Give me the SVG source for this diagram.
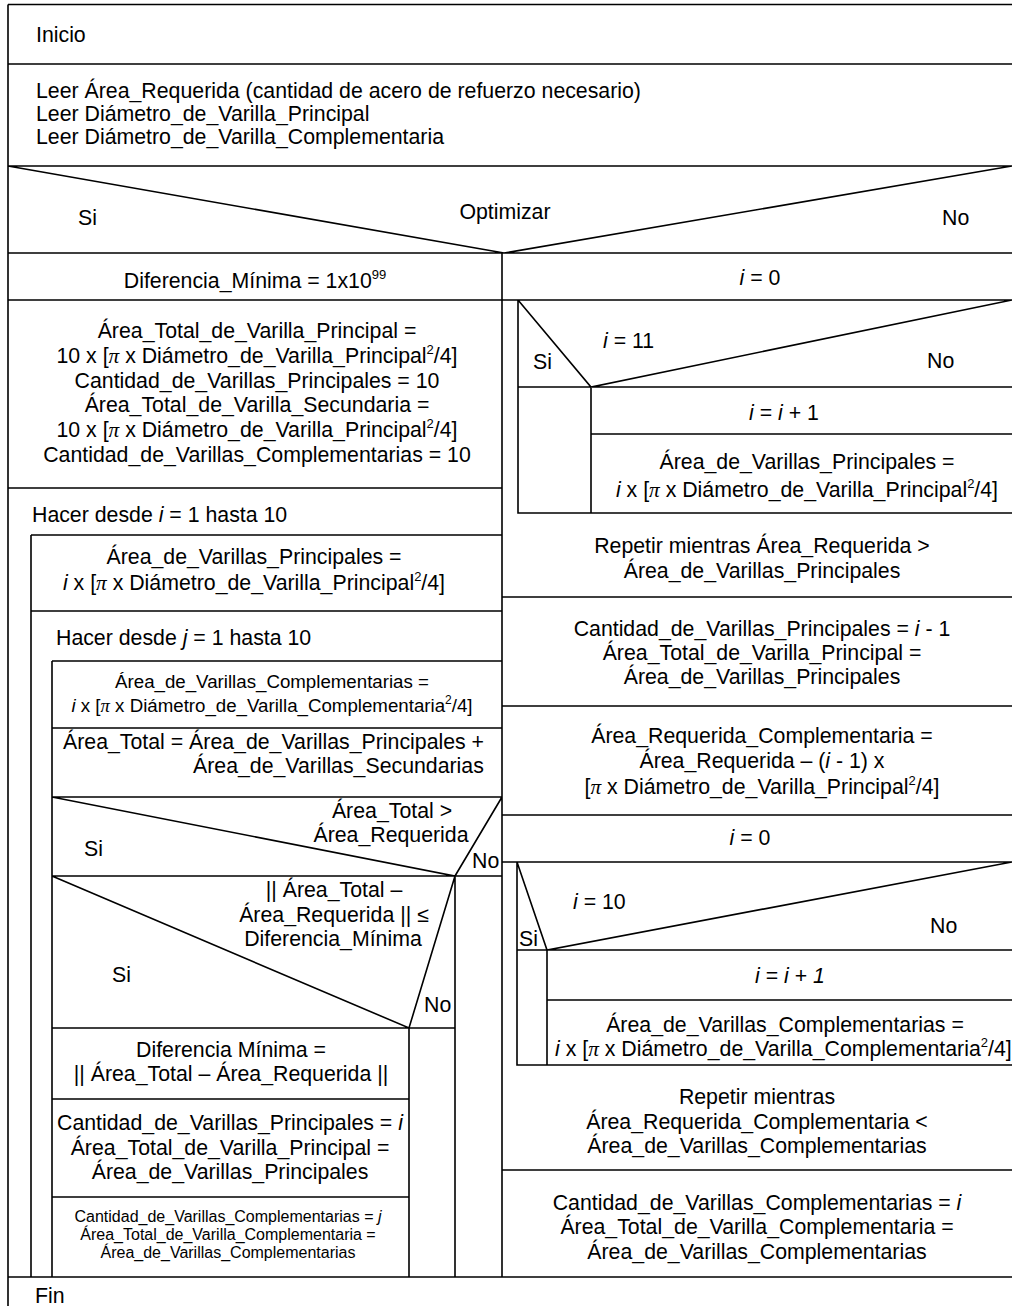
<svg xmlns="http://www.w3.org/2000/svg" width="1012" height="1306" viewBox="0 0 1012 1306">
<style>
.t{font-family:"Liberation Sans",Arial,sans-serif;font-size:21.3px;fill:#000}
.c{text-anchor:middle}
.s{font-size:18.7px}
.xs{font-size:16px}
.i{font-style:italic}
.pi{font-family:"Liberation Serif","Times New Roman",serif;font-style:italic}
.l{stroke:#000;stroke-width:1.6;fill:none}
</style>
<rect width="1012" height="1306" fill="#fff"/>
<g id="connectors" class="l">
<path d="M8 4.5H1012M8 4.5V1306M8 64H1012M8 166H1012M8 166L504 253L1012 166M8 253H1012M8 1277H1012"/>
<path d="M502 253V1277M8 300H502M8 488H502M31 535H502M31 535V1277M31 611H502M52 661H502M52 661V1277M52 728H502M52 797H502M52 797L455 876L502 797M52 876H502M455 876V1277M52 876L409 1028L455 876M52 1028H455M409 1028V1277M52 1099H409M52 1197H409"/>
<path d="M502 300H1012M518 300V513H1012M518 300L591 387L1012 300M518 387H1012M591 387V513M591 434H1012M502 597H1012M502 706H1012M502 815H1012M502 862H1012M517 862V1065H1012M517 862L547 950L1012 862M517 950H1012M547 950V1065M547 1000H1012M502 1170H1012"/>
</g>
<g id="inicio"><text class="t" x="36" y="42">Inicio</text></g>
<g id="leer">
<text class="t" x="36" y="98">Leer Área_Requerida (cantidad de acero de refuerzo necesario)</text>
<text class="t" x="36" y="121">Leer Diámetro_de_Varilla_Principal</text>
<text class="t" x="36" y="144">Leer Diámetro_de_Varilla_Complementaria</text>
</g>
<g id="optimizar">
<text class="t c" x="505" y="219">Optimizar</text>
<text class="t" x="78" y="225">Si</text>
<text class="t" x="942" y="225">No</text>
</g>
<g id="dif-min-init"><text class="t c" x="255" y="288">Diferencia_Mínima = 1x10<tspan font-size="13" dy="-9">99</tspan></text></g>
<g id="init-block">
<text class="t c" x="257" y="338">Área_Total_de_Varilla_Principal =</text>
<text class="t c" x="257" y="363">10 x [<tspan class="pi">π</tspan> x Diámetro_de_Varilla_Principal<tspan font-size="13" dy="-9">2</tspan><tspan dy="9">/4]</tspan></text>
<text class="t c" x="257" y="388">Cantidad_de_Varillas_Principales = 10</text>
<text class="t c" x="257" y="412">Área_Total_de_Varilla_Secundaria =</text>
<text class="t c" x="257" y="437">10 x [<tspan class="pi">π</tspan> x Diámetro_de_Varilla_Principal<tspan font-size="13" dy="-9">2</tspan><tspan dy="9">/4]</tspan></text>
<text class="t c" x="257" y="462">Cantidad_de_Varillas_Complementarias = 10</text>
</g>
<g id="loop-i"><text class="t" x="32" y="522">Hacer desde <tspan class="i">i</tspan> = 1 hasta 10</text></g>
<g id="area-principales">
<text class="t c" x="254" y="564">Área_de_Varillas_Principales =</text>
<text class="t c" x="254" y="590"><tspan class="i">i</tspan> x [<tspan class="pi">π</tspan> x Diámetro_de_Varilla_Principal<tspan font-size="13" dy="-9">2</tspan><tspan dy="9">/4]</tspan></text>
</g>
<g id="loop-j"><text class="t" x="56" y="645">Hacer desde <tspan class="i">j</tspan> = 1 hasta 10</text></g>
<g id="area-complementarias">
<text class="t c s" x="272" y="688">Área_de_Varillas_Complementarias =</text>
<text class="t c s" x="272" y="712"><tspan class="i">i</tspan> x [<tspan class="pi">π</tspan> x Diámetro_de_Varilla_Complementaria<tspan font-size="12" dy="-8">2</tspan><tspan dy="8">/4]</tspan></text>
</g>
<g id="area-total">
<text class="t" x="63" y="749">Área_Total = Área_de_Varillas_Principales +</text>
<text class="t" x="193" y="773">Área_de_Varillas_Secundarias</text>
</g>
<g id="decision-total">
<text class="t c" x="392" y="818">Área_Total &gt;</text>
<text class="t c" x="391" y="842">Área_Requerida</text>
<text class="t" x="84" y="856">Si</text>
<text class="t" x="472" y="868">No</text>
</g>
<g id="decision-diferencia">
<text class="t c" x="334" y="897">|| Área_Total –</text>
<text class="t c" x="334" y="922">Área_Requerida || ≤</text>
<text class="t c" x="333" y="946">Diferencia_Mínima</text>
<text class="t" x="112" y="982">Si</text>
<text class="t" x="424" y="1012">No</text>
</g>
<g id="dif-min-update">
<text class="t c" x="231" y="1057">Diferencia Mínima =</text>
<text class="t c" x="231" y="1081">|| Área_Total – Área_Requerida ||</text>
</g>
<g id="set-principales">
<text class="t c" x="230" y="1130">Cantidad_de_Varillas_Principales = <tspan class="i">i</tspan></text>
<text class="t c" x="230" y="1155">Área_Total_de_Varilla_Principal =</text>
<text class="t c" x="230" y="1179">Área_de_Varillas_Principales</text>
</g>
<g id="set-complementarias">
<text class="t c xs" x="228" y="1222">Cantidad_de_Varillas_Complementarias = <tspan class="i">j</tspan></text>
<text class="t c xs" x="228" y="1240">Área_Total_de_Varilla_Complementaria =</text>
<text class="t c xs" x="228" y="1258">Área_de_Varillas_Complementarias</text>
</g>
<g id="r-i0"><text class="t c" x="760" y="285"><tspan class="i">i</tspan> = 0</text></g>
<g id="r-decision-11">
<text class="t" x="603" y="348"><tspan class="i">i</tspan> = 11</text>
<text class="t" x="533" y="369">Si</text>
<text class="t" x="927" y="368">No</text>
</g>
<g id="r-inc1"><text class="t c" x="784" y="420"><tspan class="i">i</tspan> = <tspan class="i">i</tspan> + 1</text></g>
<g id="r-area-principales">
<text class="t c" x="807" y="469">Área_de_Varillas_Principales =</text>
<text class="t c" x="807" y="497"><tspan class="i">i</tspan> x [<tspan class="pi">π</tspan> x Diámetro_de_Varilla_Principal<tspan font-size="13" dy="-9">2</tspan><tspan dy="9">/4]</tspan></text>
</g>
<g id="r-repetir1">
<text class="t c" x="762" y="553">Repetir mientras Área_Requerida &gt;</text>
<text class="t c" x="762" y="578">Área_de_Varillas_Principales</text>
</g>
<g id="r-cantidad-principales">
<text class="t c" x="762" y="636">Cantidad_de_Varillas_Principales = <tspan class="i">i</tspan> - 1</text>
<text class="t c" x="762" y="660">Área_Total_de_Varilla_Principal =</text>
<text class="t c" x="762" y="684">Área_de_Varillas_Principales</text>
</g>
<g id="r-requerida-comp">
<text class="t c" x="762" y="743">Área_Requerida_Complementaria =</text>
<text class="t c" x="762" y="768">Área_Requerida – (<tspan class="i">i</tspan> - 1) x</text>
<text class="t c" x="762" y="794">[<tspan class="pi">π</tspan> x Diámetro_de_Varilla_Principal<tspan font-size="13" dy="-9">2</tspan><tspan dy="9">/4]</tspan></text>
</g>
<g id="r-i0b"><text class="t c" x="750" y="845"><tspan class="i">i</tspan> = 0</text></g>
<g id="r-decision-10">
<text class="t" x="573" y="909"><tspan class="i">i</tspan> = 10</text>
<text class="t" x="519" y="946">Si</text>
<text class="t" x="930" y="933">No</text>
</g>
<g id="r-inc2"><text class="t c" x="790" y="983"><tspan class="i">i</tspan> = <tspan class="i">i</tspan> + <tspan class="i">1</tspan></text></g>
<g id="r-area-comp">
<text class="t c" x="785" y="1032">Área_de_Varillas_Complementarias =</text>
<text class="t" x="555" y="1056"><tspan class="i">i</tspan> x [<tspan class="pi">π</tspan> x Diámetro_de_Varilla_Complementaria<tspan font-size="13" dy="-9">2</tspan><tspan dy="9">/4]</tspan></text>
</g>
<g id="r-repetir2">
<text class="t c" x="757" y="1104">Repetir mientras</text>
<text class="t c" x="757" y="1129">Área_Requerida_Complementaria &lt;</text>
<text class="t c" x="757" y="1153">Área_de_Varillas_Complementarias</text>
</g>
<g id="r-cantidad-comp">
<text class="t c" x="757" y="1210">Cantidad_de_Varillas_Complementarias = <tspan class="i">i</tspan></text>
<text class="t c" x="757" y="1234">Área_Total_de_Varilla_Complementaria =</text>
<text class="t c" x="757" y="1259">Área_de_Varillas_Complementarias</text>
</g>
<g id="fin"><text class="t" x="35" y="1303">Fin</text></g>
</svg>
